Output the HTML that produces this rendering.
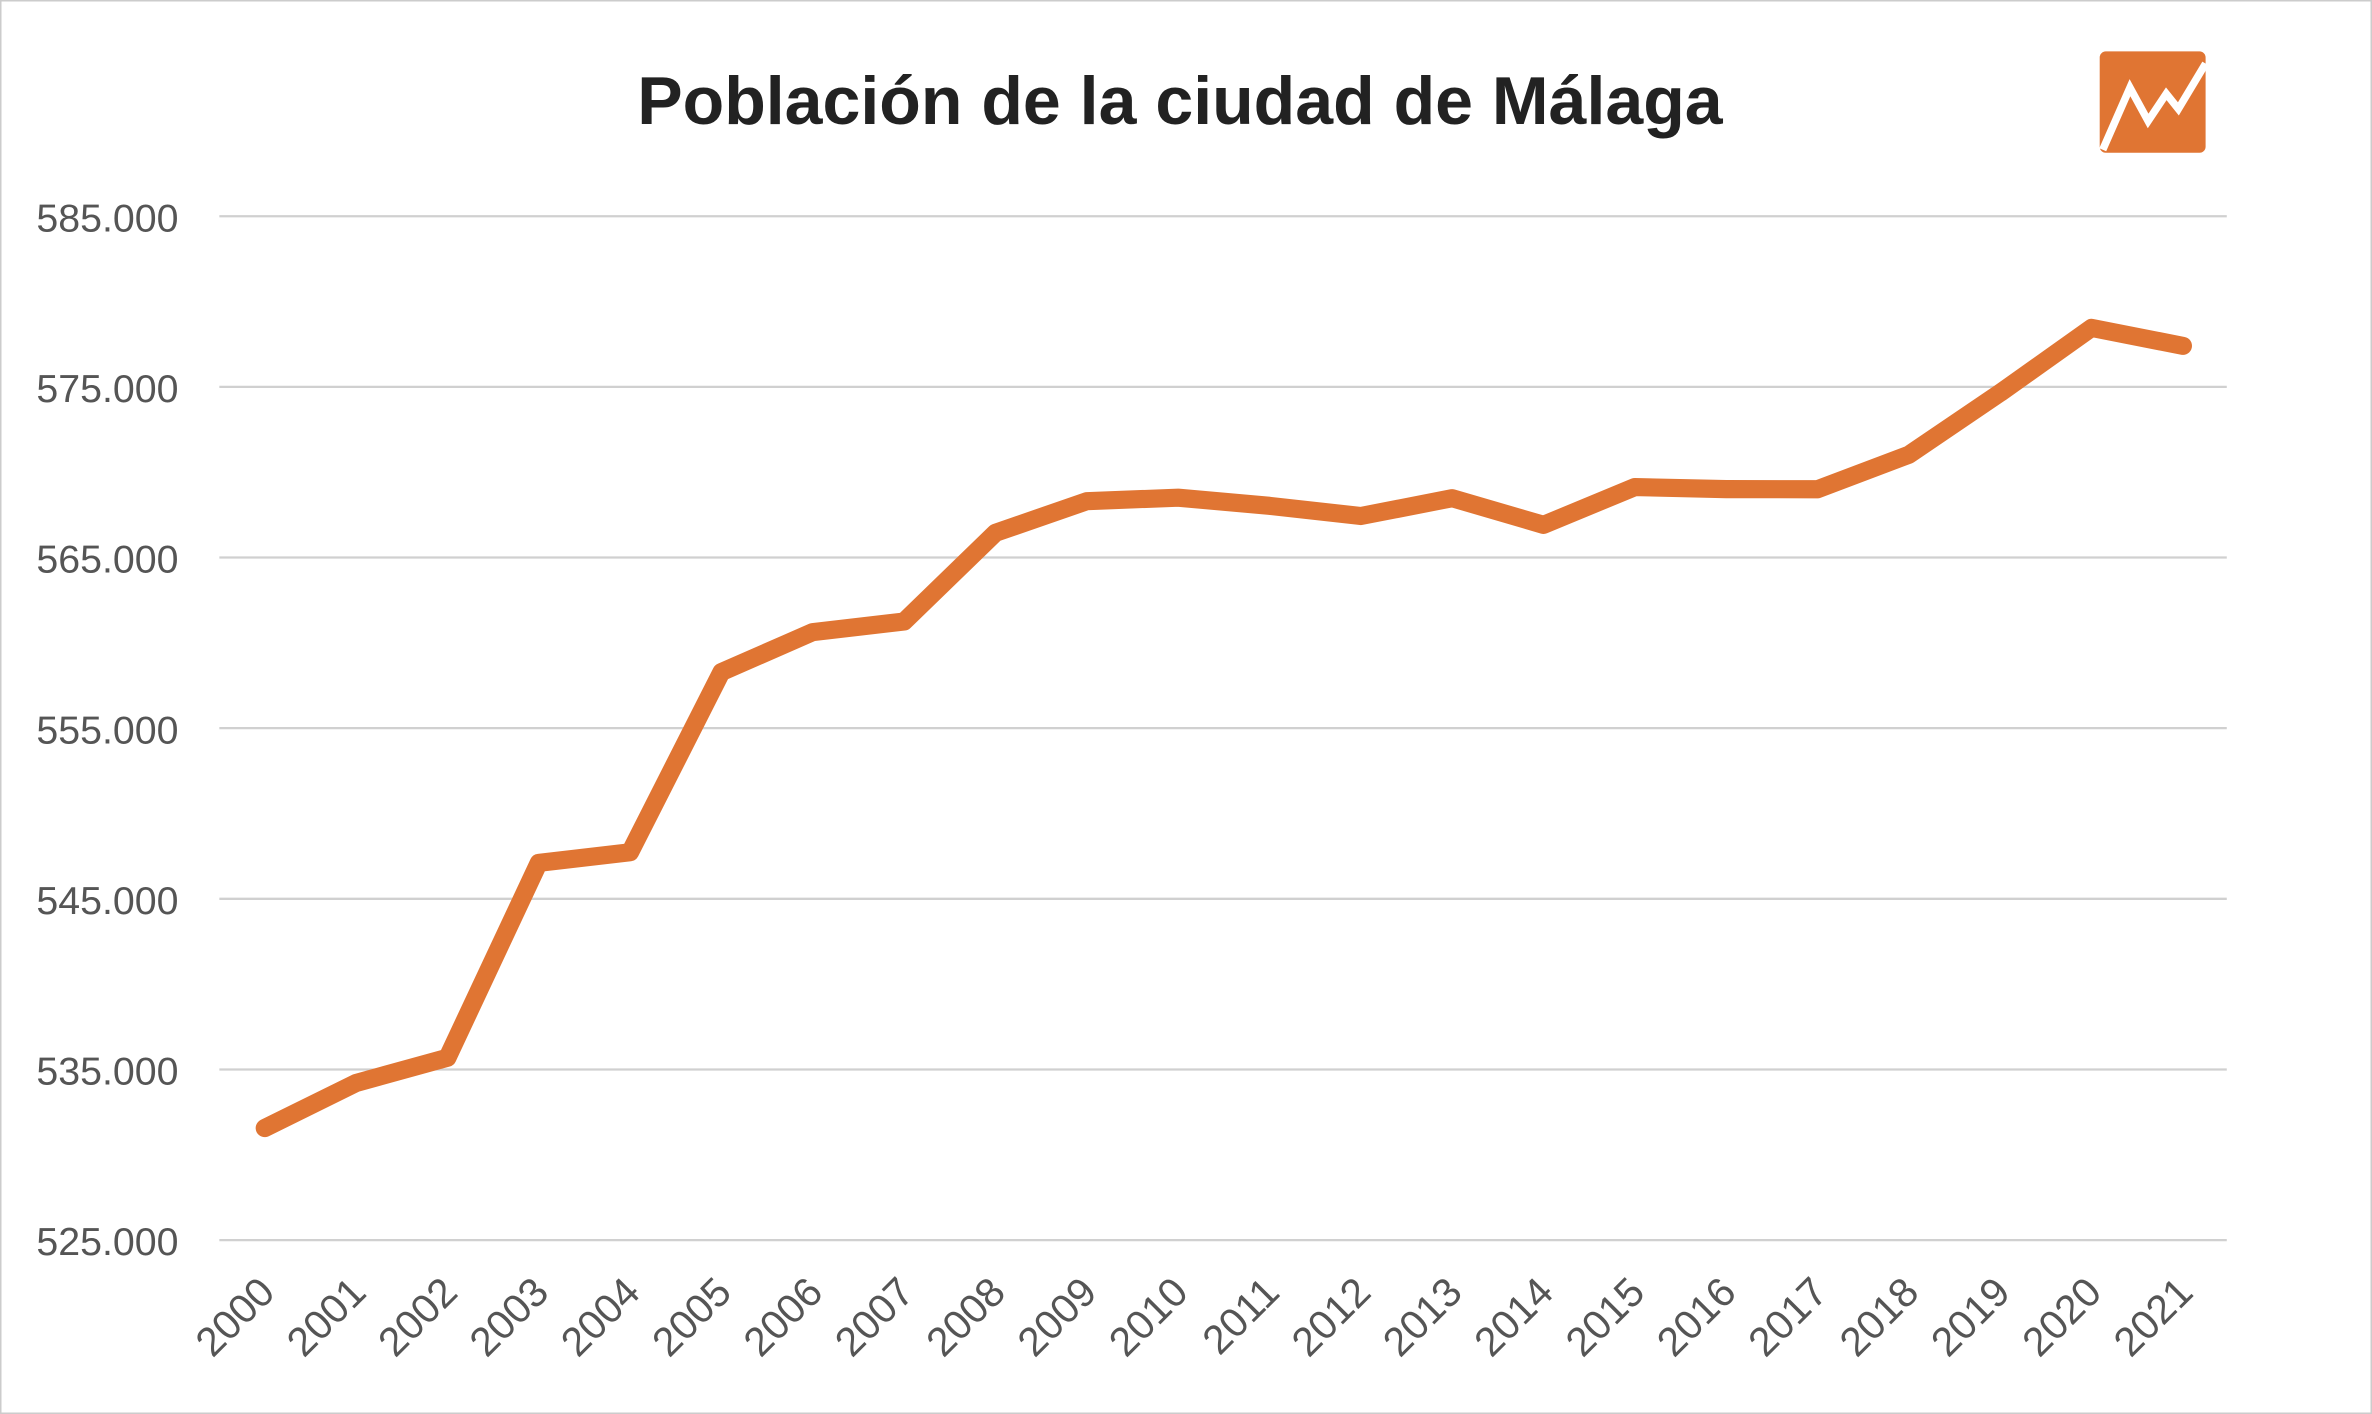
<!DOCTYPE html>
<html><head><meta charset="utf-8">
<style>
html,body{margin:0;padding:0;background:#fff;}
svg{display:block;}
text{font-family:"Liberation Sans",sans-serif;}
</style></head>
<body>
<svg id="chart" width="2372" height="1414" viewBox="0 0 1568 935" preserveAspectRatio="none" xmlns="http://www.w3.org/2000/svg">
<rect x="0.5" y="0.5" width="1567" height="934" fill="#fff" stroke="#ccc" stroke-width="1"/>
<text x="780" y="82" text-anchor="middle" font-size="45" font-weight="bold" fill="#222">Población de la ciudad de Málaga</text>
<g>
<rect x="1388" y="34" width="70" height="67" rx="4" fill="#e07533"/>
<polyline points="1390,99 1408,58 1420,80 1432,62 1440,72 1458,42" fill="none" stroke="#fff" stroke-width="5"/>
</g>
<g id="grid"></g>
<g id="yticks"></g>
<g id="xticks"></g>
<g id="series"></g>
</svg>
<script>
const years = ["2000","2001","2002","2003","2004","2005","2006","2007","2008","2009","2010","2011","2012","2013","2014","2015","2016","2017","2018","2019","2020","2021"];
const population = [531565,534207,535686,547105,547731,558287,560631,561250,566447,568305,568507,568030,567433,568479,566913,569130,569009,569002,571026,574654,578460,577405];
const yTicks = [525000,535000,545000,555000,565000,575000,585000];
const yTickLabels = ["525.000","535.000","545.000","555.000","565.000","575.000","585.000"];

const NS = "http://www.w3.org/2000/svg";
const yMin = 525000, yMax = 585000;
const plotTop = 143, plotBottom = 820, plotLeft = 145, plotRight = 1472;
const xFirst = 175, xLast = 1443;
function yScale(v){ return plotBottom - (v - yMin) / (yMax - yMin) * (plotBottom - plotTop); }
function xScale(i){ return xFirst + i * (xLast - xFirst) / (years.length - 1); }

const grid = document.getElementById('grid');
const yt = document.getElementById('yticks');
yTicks.forEach((t, i) => {
  const y = yScale(t);
  const l = document.createElementNS(NS, 'line');
  l.setAttribute('x1', plotLeft); l.setAttribute('x2', plotRight);
  l.setAttribute('y1', y); l.setAttribute('y2', y);
  l.setAttribute('stroke', '#d0d0d0'); l.setAttribute('stroke-width', '1.5');
  
  
  grid.appendChild(l);
  const tx = document.createElementNS(NS, 'text');
  tx.setAttribute('x', 118); tx.setAttribute('y', y + 10);
  tx.setAttribute('text-anchor', 'end'); tx.setAttribute('font-size', '26'); tx.setAttribute('fill', '#555');
  tx.textContent = yTickLabels[i];
  
  
  yt.appendChild(tx);
});

const xt = document.getElementById('xticks');
years.forEach((yr, i) => {
  const x = xScale(i) + 8;
  const tx = document.createElementNS(NS, 'text');
  tx.setAttribute('x', x); tx.setAttribute('y', 856);
  tx.setAttribute('text-anchor', 'end'); tx.setAttribute('font-size', '27'); tx.setAttribute('fill', '#555');
  tx.setAttribute('transform', 'rotate(-45 ' + x + ' 856)');
  tx.textContent = yr;
  
  
  xt.appendChild(tx);
});

const pts = population.map((v, i) => xScale(i) + ',' + yScale(v)).join(' ');
const pl = document.createElementNS(NS, 'polyline');
pl.setAttribute('points', pts);
pl.setAttribute('fill', 'none'); pl.setAttribute('stroke', '#e07533');
pl.setAttribute('stroke-width', '12'); pl.setAttribute('stroke-linecap', 'round'); pl.setAttribute('stroke-linejoin', 'round');


document.getElementById('series').appendChild(pl);
</script>
</body></html>
